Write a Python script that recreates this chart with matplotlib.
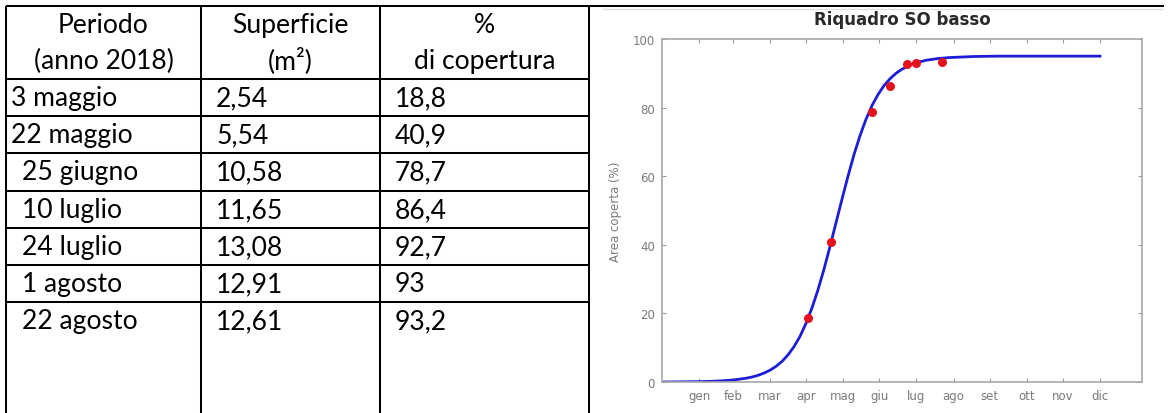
# Word-style table on the left, the logistic growth chart on the right.

import numpy as np
import pandas as pd
import matplotlib
matplotlib.use('Agg')
import matplotlib.pyplot as plt


# THE DATA ****************************************************************************

periodi = ['3 maggio', '22 maggio', '25 giugno', '10 luglio', '24 luglio', '1 agosto', '22 agosto']
date_rilievo = ['2018-05-03', '2018-05-22', '2018-06-25', '2018-07-10',
                '2018-07-24', '2018-08-01', '2018-08-22']
superficie = [2.54, 5.54, 10.58, 11.65, 13.08, 12.91, 12.61]   # m2
copertura = [18.8, 40.9, 78.7, 86.4, 92.7, 93, 93.2]          # % covered

# fitted curve (days from 1 Jan 2018, % area)
curva_giorni = [0, 20, 30, 40, 50, 60, 70, 75, 80, 85, 90, 95, 100, 105, 110, 115, 120,
                125, 130, 135, 140, 145, 150, 155, 160, 165, 170, 175, 180, 185, 190,
                195, 200, 210, 220, 230, 240, 260, 280, 300, 365]
curva_valori = [0.0, 0.06, 0.1, 0.19, 0.34, 0.61, 1.09, 1.45, 1.94, 2.59, 3.44, 4.56, 6.0,
                7.9, 10.3, 13.3, 17.1, 21.6, 26.9, 32.9, 39.5, 46.4, 53.3, 60.0, 66.3,
                71.8, 76.6, 80.6, 83.8, 86.4, 88.4, 90.0, 91.2, 92.9, 93.8, 94.3, 94.6,
                94.9, 95.0, 95.0, 95.0]

mesi = ['gen', 'feb', 'mar', 'apr', 'mag', 'giu', 'lug', 'ago', 'set', 'ott', 'nov', 'dic']
y_ticks = [0, 20, 40, 60, 80, 100]

header = [['Periodo', '(anno 2018)'], ['Superficie', '(m²)'], ['%', 'di copertura']]

inizio = pd.Timestamp('2018-01-01')
giorni = (pd.to_datetime(date_rilievo) - inizio).days
# ticks sit at the end of each month
fine_mese = (pd.date_range('2018-02-01', periods=12, freq='MS') - inizio).days


# THE FIGURE **************************************************************************

W, H = 1169, 414
fig = plt.figure(figsize=(W / 100, H / 100), dpi=100, facecolor='w')

# full-size axes in pixel units for the table
bg = fig.add_axes([0, 0, 1, 1])
bg.set_xlim(0, W)
bg.set_ylim(H, 0)
bg.axis('off')

# scale the table font so that it matches the reference text widths
renderer = fig.canvas.get_renderer()
probe = fig.text(0, 0, '22 agosto', fontsize=20, family='Lato')
fs = 20 * 115 / probe.get_window_extent(renderer).width
probe.remove()

lw = 1.45
col_x = [6, 201, 380, 589]
row_y = [80, 117, 154, 192, 229, 266, 303]

bg.plot([6, 1164], [7, 7], color='k', lw=lw, solid_capstyle='butt')
for x in col_x:
    bg.plot([x, x], [7, H + 5], color='k', lw=lw, solid_capstyle='butt')
for y in row_y:
    bg.plot([6, 589], [y, y], color='k', lw=lw, solid_capstyle='butt')

# header
for i, (l1, l2) in enumerate(header):
    xc = (col_x[i] + col_x[i + 1]) / 2
    bg.text(xc, 33, l1, ha='center', va='baseline', fontsize=fs, family='Lato')
    bg.text(xc, 69, l2, ha='center', va='baseline', fontsize=fs, family='Lato')

# rows
period_x = [11, 11, 22, 22, 22, 22, 22]
for i in range(len(periodi)):
    base = row_y[i] + 26
    bg.text(period_x[i], base, periodi[i], va='baseline', fontsize=fs, family='Lato')
    bg.text(216, base, f'{superficie[i]:.2f}'.replace('.', ','), va='baseline',
            fontsize=fs, family='Lato')
    bg.text(395, base, f'{copertura[i]:g}'.replace('.', ','), va='baseline',
            fontsize=fs, family='Lato')

# faint edge of the pasted picture
bg.plot([603, 1162], [10, 10], color='#dedede', lw=1)


# THE CHART ***************************************************************************

ax = fig.add_axes([662 / W, 1 - 383 / H, 480 / W, 343 / H])
ax.plot(curva_giorni, curva_valori, color='#1d1dd8', lw=2.0, zorder=2)
ax.plot(giorni, copertura, 'o', color='#e3121c', ms=6.5, mec='none', zorder=3)

ax.set_xlim(0, 400)
ax.set_ylim(0, 100)
ax.set_xticks(fine_mese)
ax.set_xticklabels(mesi)
ax.set_yticks(y_ticks)

ax.tick_params(direction='in', length=3, width=0.8, color='#9c9c9c', labelsize=8.5,
               labelcolor='#7a7a7a', top=True, right=True)
ax.tick_params(axis='y', pad=5)
ax.tick_params(axis='x', pad=5)
for s in ax.spines.values():
    s.set_color('#a8a8a8')
    s.set_linewidth(1.2)

ax.set_ylabel('Area coperta (%)', fontsize=8.5, color='#7a7a7a')
ax.yaxis.set_label_coords(-0.083, 0.5)

ax.text(0.5, (383 - 20) / 343, 'Riquadro SO basso', transform=ax.transAxes, ha='center',
        va='center', fontsize=12, fontweight='bold', color='#2a2a2a')

plt.savefig('out.png', dpi=100, facecolor='w')
